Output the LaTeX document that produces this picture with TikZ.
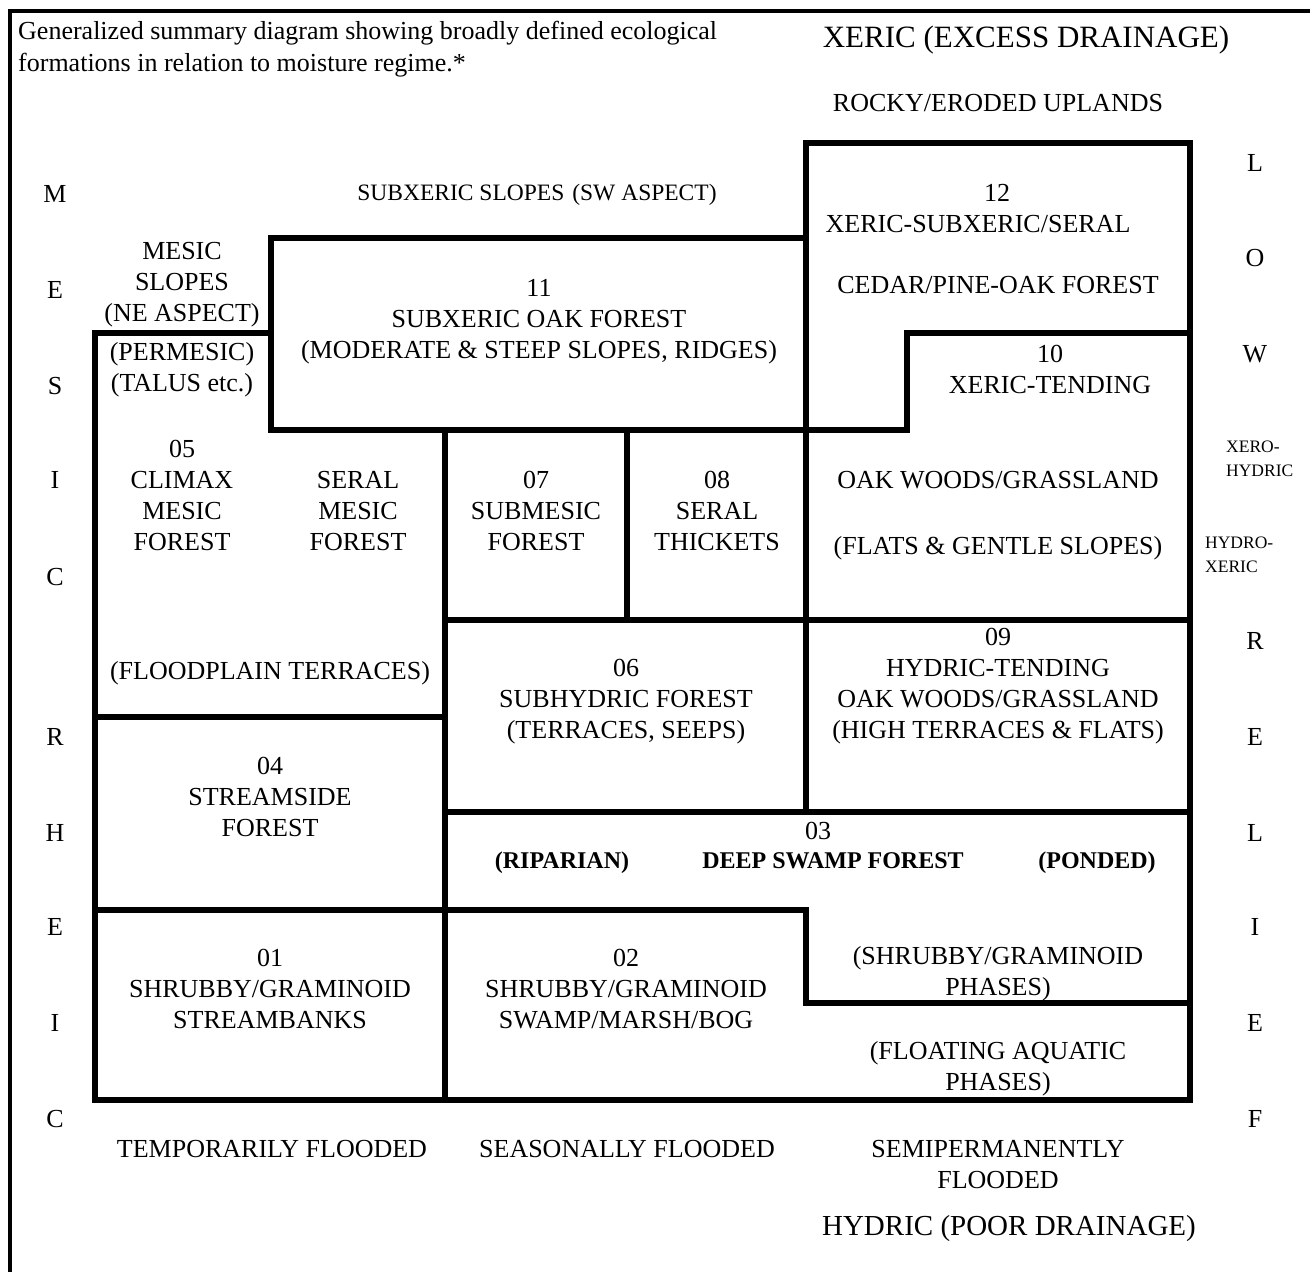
\documentclass[tikz,border=0pt]{standalone}
\usepackage{fontspec}
\setmainfont{Liberation Serif}
\begin{document}
\begin{tikzpicture}[x=1pt,y=-1pt,
  wall/.style={line width=5.5pt,line cap=rect,line join=miter},
  frame/.style={line width=4.5pt,line join=miter},
  lab/.style={align=center,inner sep=0pt,font=\fontsize{26}{31}\selectfont},
  one/.style={inner sep=0pt,anchor=base,font=\fontsize{26}{31}\selectfont},
  boldlab/.style={inner sep=0pt,anchor=base,font=\fontsize{24}{29}\selectfont\bfseries},
  big/.style={inner sep=0pt,anchor=base,font=\fontsize{31}{36}\selectfont},
  axislet/.style={inner sep=0pt,anchor=base,font=\fontsize{26}{31}\selectfont},
  smalllab/.style={align=left,inner sep=0pt,anchor=west,font=\fontsize{17.5}{24}\selectfont}]
\useasboundingbox (0,0) rectangle (1310,1272);
% outer frame
\draw[frame] (10,1280) -- (10,11) -- (1320,11);
% walls
\draw[wall] (806,143) -- (1190,143) -- (1190,1100);
\draw[wall] (271,430) -- (271,238) -- (806,238);
\draw[wall] (95,1100) -- (95,333) -- (271,333);
\draw[wall] (806,143) -- (806,812);
\draw[wall] (271,430) -- (907,430) -- (907,333) -- (1190,333);
\draw[wall] (445,430) -- (445,1100);
\draw[wall] (627,430) -- (627,620);
\draw[wall] (445,620) -- (1190,620);
\draw[wall] (95,717) -- (445,717);
\draw[wall] (445,812) -- (1190,812);
\draw[wall] (95,910) -- (806,910) -- (806,1003) -- (1190,1003);
\draw[wall] (95,1100) -- (1190,1100);
% title
\node[lab,align=left,anchor=north west] (title) at (18,21)
  {Generalized summary diagram showing broadly defined ecological\\[1pt]formations in relation to moisture regime.*};
\node[big] (xeric) at (1026,47) {XERIC (EXCESS DRAINAGE)};
\node[one] (rocky) at (998,111) {ROCKY/ERODED UPLANDS};
\node[one,font=\fontsize{23.5}{28}\selectfont] (subxslopes) at (537,200) {SUBXERIC SLOPES\hspace{8pt}(SW ASPECT)};
\node[lab] (mesicslopes) at (182,285) {MESIC\\SLOPES\\(NE ASPECT)};
\node[lab] (f11) at (539,322) {11\\SUBXERIC OAK FOREST\\(MODERATE \& STEEP SLOPES, RIDGES)};
\node[one] (n12) at (997,201) {12};
\node[one] (f12a) at (978,232) {XERIC-SUBXERIC/SERAL};
\node[one] (f12b) at (998,293) {CEDAR/PINE-OAK FOREST};
\node[lab] (permesic) at (182,370) {(PERMESIC)\\(TALUS etc.)};
\node[lab] (f10) at (1050,369) {10\\XERIC-TENDING};
\node[lab] (f05) at (182,495) {05\\CLIMAX\\MESIC\\FOREST};
\node[lab] (seralmesic) at (358,511) {SERAL\\MESIC\\FOREST};
\node[lab] (f07) at (536,511) {07\\SUBMESIC\\FOREST};
\node[lab] (f08) at (717,511) {08\\SERAL\\THICKETS};
\node[one] (oakwoods) at (998,488) {OAK WOODS/GRASSLAND};
\node[one] (flats) at (998,554) {(FLATS \& GENTLE SLOPES)};
\node[one] (floodplain) at (270,679) {(FLOODPLAIN TERRACES)};
\node[lab] (f06) at (626,702) {06\\SUBHYDRIC FOREST\\(TERRACES, SEEPS)};
\node[lab] (f09) at (998,686) {09\\HYDRIC-TENDING\\OAK WOODS/GRASSLAND\\(HIGH TERRACES \& FLATS)};
\node[lab] (f04) at (270,797) {04\\STREAMSIDE\\FOREST};
\node[one] (n03) at (818,839) {03};
\node[boldlab] (riparian) at (562,868) {(RIPARIAN)};
\node[boldlab] (deepswamp) at (833,868) {DEEP SWAMP FOREST};
\node[boldlab] (ponded) at (1097,868) {(PONDED)};
\node[lab] (f01) at (270,989) {01\\SHRUBBY/GRAMINOID\\STREAMBANKS};
\node[lab] (f02) at (626,989) {02\\SHRUBBY/GRAMINOID\\SWAMP/MARSH/BOG};
\node[lab] (shrubphase) at (998,974) {(SHRUBBY/GRAMINOID\\PHASES)};
\node[lab] (floating) at (998,1069) {(FLOATING AQUATIC\\PHASES)};
\node[one] (temp) at (272,1157) {TEMPORARILY FLOODED};
\node[one] (seas) at (627,1157) {SEASONALLY FLOODED};
\node[lab] (semi) at (998,1165) {SEMIPERMANENTLY\\FLOODED};
\node[big,font=\fontsize{29}{34}\selectfont] (hydric) at (1009,1235) {HYDRIC (POOR DRAINAGE)};
% left axis letters
\foreach \l/\yy/\nm in {M/202/la,E/298/lb,S/394/lc,I/488/ld,C/585/le,R/745/lf,H/841/lg,E/935/lh,I/1031/li,C/1127/lj}
  \node[axislet] (\nm) at (55,\yy) {\l};
% right axis letters
\foreach \l/\yy/\nm in {L/171/ra,O/266/rb,W/362/rc,R/649/rd,E/745/re,L/841/rf,I/935/rg,E/1031/rh,F/1127/ri}
  \node[axislet] (\nm) at (1255,\yy) {\l};
\node[smalllab] (xerohydric) at (1226,459) {XERO-\\HYDRIC};
\node[smalllab] (hydroxeric) at (1205,555) {HYDRO-\\XERIC};
\end{tikzpicture}
\end{document}
